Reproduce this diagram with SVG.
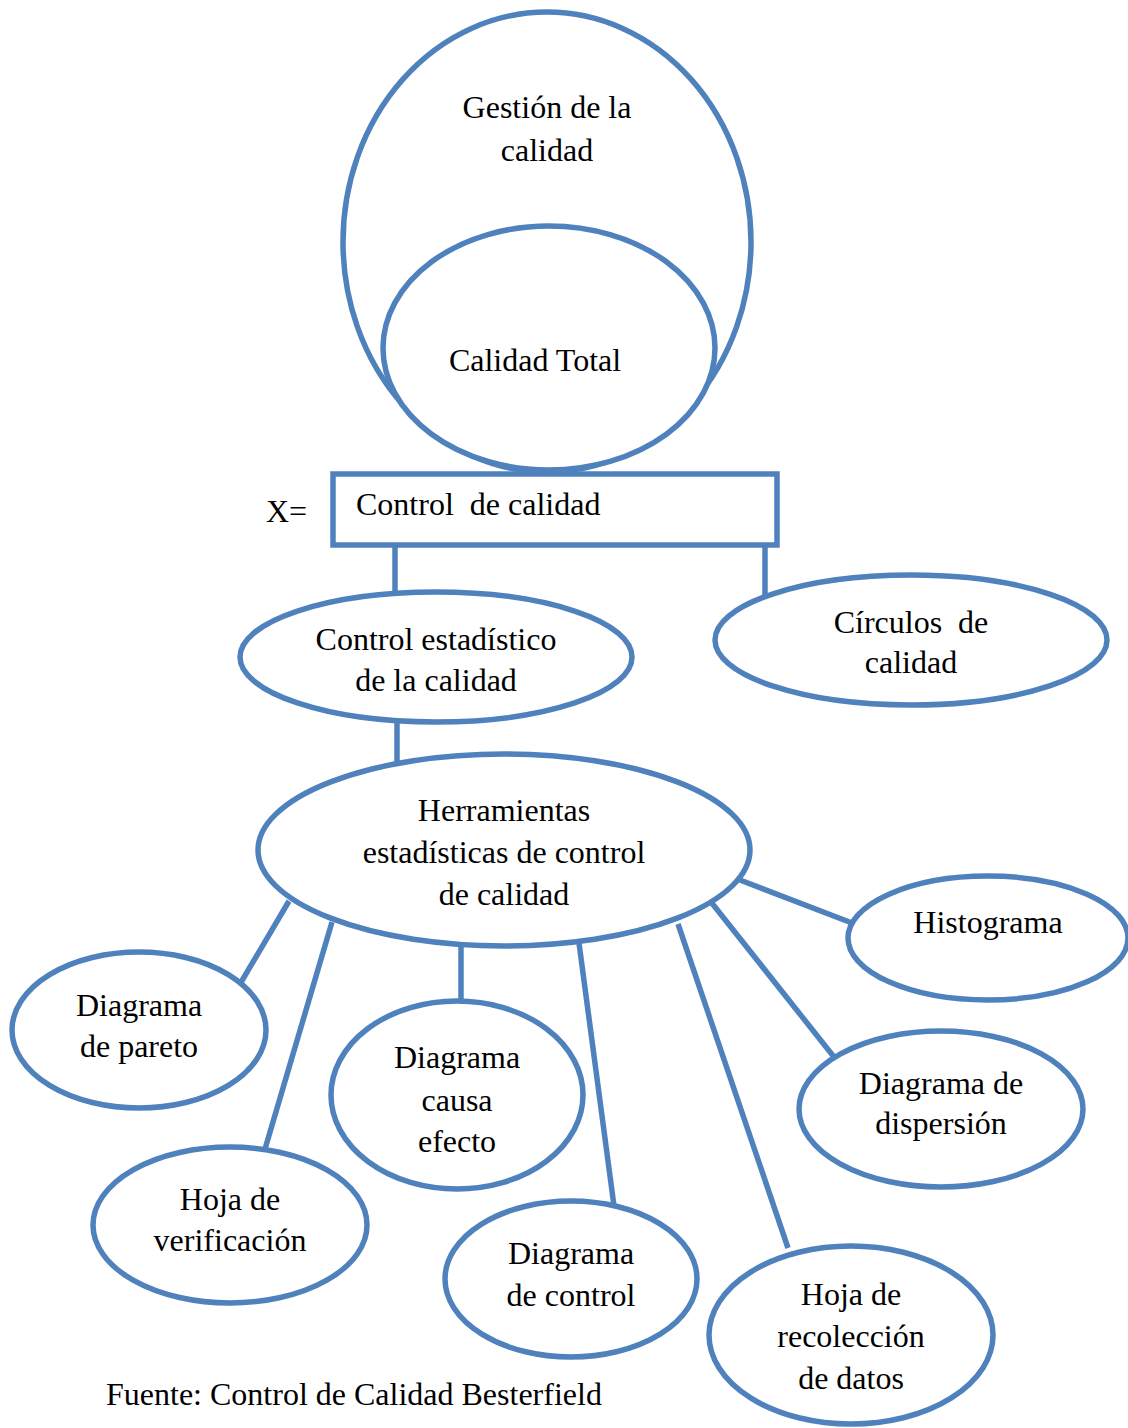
<svg xmlns="http://www.w3.org/2000/svg" width="1128" height="1428" viewBox="0 0 1128 1428">
<style>
.n{fill:#fff;stroke:#4F81BD;stroke-width:5.5}
.c{stroke:#4F81BD;stroke-width:5.5;fill:none}
text{font-family:"Liberation Serif","Times New Roman",serif;font-size:32px;fill:#000}
.m{text-anchor:middle}
</style>
<rect width="1128" height="1428" fill="#fff"/>
<g id="connectors">
<line class="c" x1="395" y1="545" x2="395" y2="595"/>
<line class="c" x1="765" y1="545" x2="765" y2="597"/>
<line class="c" x1="397" y1="722" x2="397" y2="771"/>
<line class="c" x1="740" y1="880" x2="852" y2="923"/>
<line class="c" x1="289" y1="901" x2="240" y2="984"/>
<line class="c" x1="332" y1="922" x2="265" y2="1149"/>
<line class="c" x1="461" y1="945" x2="461" y2="1001"/>
<line class="c" x1="579" y1="943" x2="614" y2="1206"/>
<line class="c" x1="678" y1="924" x2="788" y2="1248"/>
<line class="c" x1="711" y1="902" x2="834" y2="1057"/>
</g>
<g id="gestion">
<ellipse class="n" cx="547" cy="242" rx="204" ry="230"/>
<text class="m" x="547" y="118">Gestión de la</text>
<text class="m" x="547" y="161">calidad</text>
</g>
<g id="calidad-total">
<ellipse class="n" cx="549" cy="348" rx="166" ry="122"/>
<text class="m" x="535" y="371">Calidad Total</text>
</g>
<g id="control-calidad">
<rect class="n" x="333" y="474" width="444" height="71"/>
<text x="356" y="515" xml:space="preserve">Control  de calidad</text>
<text x="266" y="522">X=</text>
</g>
<g id="control-estadistico">
<ellipse class="n" cx="436" cy="657" rx="196" ry="65"/>
<text class="m" x="436" y="650">Control estadístico</text>
<text class="m" x="436" y="691">de la calidad</text>
</g>
<g id="circulos">
<ellipse class="n" cx="911" cy="640" rx="196" ry="65"/>
<text class="m" x="911" y="633" xml:space="preserve">Círculos  de</text>
<text class="m" x="911" y="673">calidad</text>
</g>
<g id="herramientas">
<ellipse class="n" cx="504" cy="850" rx="246" ry="96"/>
<text class="m" x="504" y="821">Herramientas</text>
<text class="m" x="504" y="863">estadísticas de control</text>
<text class="m" x="504" y="905">de calidad</text>
</g>
<g id="histograma">
<ellipse class="n" cx="988" cy="938" rx="140" ry="62"/>
<text class="m" x="988" y="933">Histograma</text>
</g>
<g id="pareto">
<ellipse class="n" cx="139" cy="1030" rx="127" ry="78"/>
<text class="m" x="139" y="1016">Diagrama</text>
<text class="m" x="139" y="1057">de pareto</text>
</g>
<g id="causa-efecto">
<ellipse class="n" cx="457" cy="1095" rx="126" ry="94"/>
<text class="m" x="457" y="1068">Diagrama</text>
<text class="m" x="457" y="1111">causa</text>
<text class="m" x="457" y="1152">efecto</text>
</g>
<g id="verificacion">
<ellipse class="n" cx="230" cy="1225" rx="137" ry="78"/>
<text class="m" x="230" y="1210">Hoja de</text>
<text class="m" x="230" y="1251">verificación</text>
</g>
<g id="control">
<ellipse class="n" cx="571" cy="1279" rx="126" ry="78"/>
<text class="m" x="571" y="1264">Diagrama</text>
<text class="m" x="571" y="1306">de control</text>
</g>
<g id="dispersion">
<ellipse class="n" cx="941" cy="1109" rx="142" ry="78"/>
<text class="m" x="941" y="1094">Diagrama de</text>
<text class="m" x="941" y="1134">dispersión</text>
</g>
<g id="recoleccion">
<ellipse class="n" cx="851" cy="1335" rx="142" ry="89"/>
<text class="m" x="851" y="1305">Hoja de</text>
<text class="m" x="851" y="1347">recolección</text>
<text class="m" x="851" y="1389">de datos</text>
</g>
<text x="106" y="1405">Fuente: Control de Calidad Besterfield</text>
</svg>
